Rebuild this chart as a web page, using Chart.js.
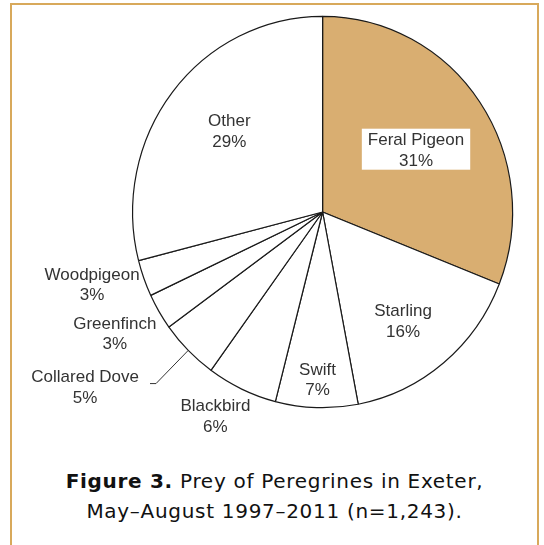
<!DOCTYPE html>
<html>
<head>
<meta charset="utf-8">
<script src="https://cdn.jsdelivr.net/npm/chart.js@4/dist/chart.umd.min.js"></script>
<style>
  html, body { margin: 0; padding: 0; background: #ffffff; }
  body { width: 544px; height: 545px; position: relative; overflow: hidden; }
  #frame {
    position: absolute; left: 10px; top: 3px; width: 529px; height: 600px;
    border: 2px solid #d8a95b; box-sizing: border-box;
  }
  #pie { position: absolute; left: 0; top: 0; }
  #caption {
    position: absolute; left: 10px; width: 529px; top: 467px;
    text-align: center; font-family: "DejaVu Sans", Verdana, sans-serif;
    font-size: 20px; letter-spacing: 0.7px; line-height: 29.6px; color: #111;
  }
  #caption b { font-weight: bold; }
  #fontwarm { position: absolute; left: -999px; font-family: "Liberation Sans"; }
</style>
</head>
<body>
<div id="frame"></div>
<canvas id="pie" width="544" height="450"></canvas>
<div id="caption"><b>Figure 3.</b> Prey of Peregrines in Exeter,<br>May–August 1997–2011 (n=1,243).</div>
<span id="fontwarm">Feral Pigeon 31%</span>
<script>
// Prey categories, clockwise from 12 o'clock
const categories = ['Feral Pigeon', 'Starling', 'Swift', 'Blackbird', 'Collared Dove', 'Greenfinch', 'Woodpigeon', 'Other'];
// Share of prey items (%)
const shares = [31, 16, 7, 6, 5, 3, 3, 29];
const sliceColors = ['#d9ae71', '#ffffff', '#ffffff', '#ffffff', '#ffffff', '#ffffff', '#ffffff', '#ffffff'];

// Label placement: distance from centre as a fraction of the radius, and a small angular nudge (deg)
const labelRadius = [0.583, 0.704, 0.86, 1.19, 1.539, 1.259, 1.27, 0.639];
const labelNudge  = [1.7, 2.6, 0, 3.1, 9.3, 0.9, 2.6, 2.0];
const leaderSlices = ['Collared Dove'];
const boxedSlices = ['Feral Pigeon'];

const stretchY = 1.03;   // the pie is drawn slightly taller than wide
const labelFont = '17px "Liberation Sans", Arial, sans-serif';
const lineGap = 20.5;

const ovalPlugin = {
  id: 'oval',
  beforeDatasetsDraw(chart) {
    const arc = chart.getDatasetMeta(0).data[0];
    const ctx = chart.ctx;
    ctx.save();
    ctx.translate(arc.x, arc.y);
    ctx.scale(1, stretchY);
    ctx.translate(-arc.x, -arc.y);
  },
  afterDatasetsDraw(chart) {
    chart.ctx.restore();
  }
};

const labelPlugin = {
  id: 'sliceLabels',
  afterDraw(chart) {
    const ctx = chart.ctx;
    const meta = chart.getDatasetMeta(0);
    ctx.save();
    ctx.font = labelFont;
    ctx.textAlign = 'center';
    ctx.textBaseline = 'middle';
    meta.data.forEach((arc, i) => {
      const mid = (arc.startAngle + arc.endAngle) / 2;
      const R = arc.outerRadius;
      const a = mid + labelNudge[i] * Math.PI / 180;
      const x = arc.x + Math.cos(a) * R * labelRadius[i];
      const y = arc.y + Math.sin(a) * R * labelRadius[i] * stretchY;
      const name = categories[i];
      const pct = shares[i] + '%';

      if (leaderSlices.includes(name)) {
        const x0 = arc.x + Math.cos(mid) * R;
        const y0 = arc.y + Math.sin(mid) * R * stretchY;
        const x1 = arc.x + Math.cos(mid) * R * 1.24;
        const y1 = arc.y + Math.sin(mid) * R * 1.24 * stretchY;
        ctx.beginPath();
        ctx.strokeStyle = '#333';
        ctx.lineWidth = 1;
        ctx.moveTo(x0, y0);
        ctx.lineTo(x1, y1);
        ctx.lineTo(x1 - 6, y1);
        ctx.stroke();
      }
      if (boxedSlices.includes(name)) {
        const w = ctx.measureText(name).width + 12;
        ctx.fillStyle = '#ffffff';
        ctx.fillRect(x - w / 2, y - 22, w, 41);
      }
      ctx.fillStyle = '#333333';
      ctx.fillText(name, x, y - lineGap / 2);
      ctx.fillText(pct, x, y + lineGap / 2);
    });
    ctx.restore();
  }
};

function drawPie() {
  new Chart(document.getElementById('pie'), {
    type: 'pie',
    data: {
      labels: categories,
      datasets: [{
        data: shares,
        backgroundColor: sliceColors,
        borderColor: '#1a1a1a',
        borderWidth: 1.2
      }]
    },
    options: {
      responsive: false,
      animation: false,
      devicePixelRatio: 1,
      layout: { padding: { left: 132, right: 30.8, top: 21.4, bottom: 47.4 } },
      plugins: { legend: { display: false }, tooltip: { enabled: false } }
    },
    plugins: [ovalPlugin, labelPlugin]
  });
}

if (document.fonts && document.fonts.load) {
  document.fonts.load(labelFont).then(drawPie, drawPie);
} else {
  drawPie();
}
</script>
</body>
</html>
